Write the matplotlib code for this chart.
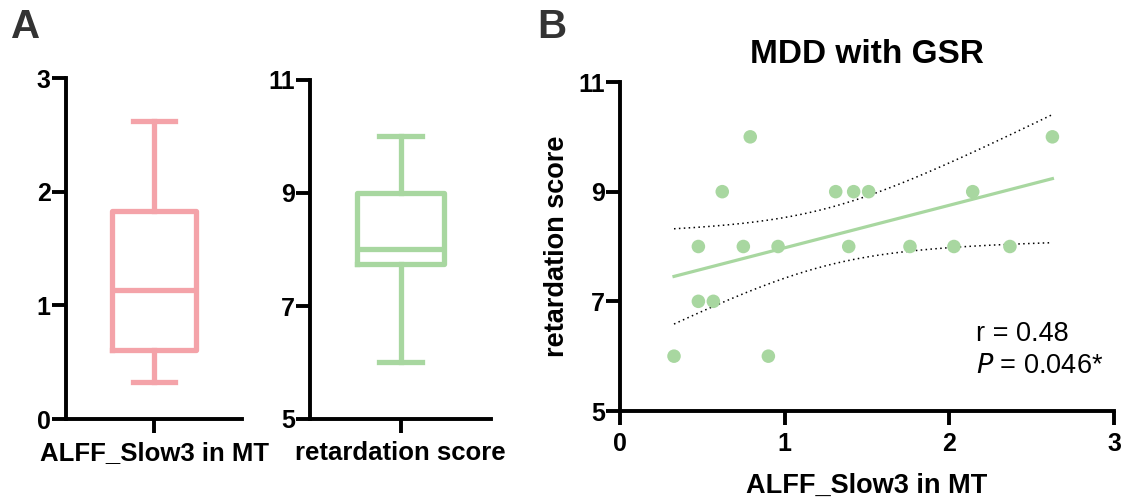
import numpy as np
import matplotlib
matplotlib.use("Agg")
import matplotlib.pyplot as plt

plt.rcParams['font.family'] = ['Liberation Sans', 'DejaVu Sans']

# ---- data ----
alff = [0.328, 0.476, 0.476, 0.567, 0.621, 0.749, 0.791, 0.901, 0.960,
        1.310, 1.389, 1.419, 1.510, 1.761, 2.028, 2.142, 2.368, 2.626]
retard = [6, 8, 7, 7, 9, 8, 10, 6, 8, 9, 8, 9, 9, 8, 8, 9, 8, 10]
xlabel_alff = "ALFF_Slow3 in MT"
ylabel_ret = "retardation score"
title_b = "MDD with GSR"
r_text = "r = 0.48"
p_text = r"$\it{P}$ = 0.046*"
yticks_alff = [0, 1, 2, 3]
yticks_ret = [5, 7, 9, 11]
xticks_b = [0, 1, 2, 3]

PINK = "#F4A3A9"
GREEN = "#A8D7A0"
W, H = 1123, 498
fig = plt.figure(figsize=(W / 100, H / 100), dpi=100)

TICK_FS = 18


def ax_px(l, t, r, b):
    return fig.add_axes([l / W, 1 - b / H, (r - l) / W, (b - t) / H])


def style(ax):
    for s in ['top', 'right']:
        ax.spines[s].set_visible(False)
    for s in ['left', 'bottom']:
        ax.spines[s].set_linewidth(2.8)
        ax.spines[s].set_color('black')
    ax.tick_params(width=2.8, length=10, direction='out', labelsize=TICK_FS, pad=1)
    for lab in ax.get_xticklabels() + ax.get_yticklabels():
        lab.set_fontweight('bold')


def stats(vals, label):
    v = np.asarray(vals)
    q1, med, q3 = np.percentile(v, [25, 50, 75], method='weibull')
    return dict(label=label, whislo=v.min(), q1=q1, med=med, q3=q3,
                whishi=v.max(), fliers=[])


def draw_box(ax, vals, color, label, ylim, yticks):
    st = stats(vals, label)
    lw = 3.8
    ax.bxp([st], positions=[1], widths=0.48, capwidths=0.24, showfliers=False,
           boxprops=dict(color=color, linewidth=lw),
           whiskerprops=dict(color=color, linewidth=lw),
           capprops=dict(color=color, linewidth=lw),
           medianprops=dict(color=color, linewidth=lw))
    ax.set_xlim(0.5, 1.5)
    ax.set_ylim(*ylim)
    ax.set_yticks(yticks)
    ax.set_xticks([1])
    style(ax)
    ax.tick_params(axis='x', pad=6)
    ax.set_xticklabels([label], fontsize=18.5, fontweight='bold')
    for lab in ax.get_yticklabels():
        lab.set_fontweight('bold')


# Panel A
ax1 = ax_px(66, 78, 242, 419)
draw_box(ax1, alff, PINK, xlabel_alff, (0, 3), yticks_alff)
ax2 = ax_px(310, 80, 491, 419)
draw_box(ax2, retard, GREEN, ylabel_ret, (5, 11), yticks_ret)

# Panel B
ax3 = ax_px(620, 82, 1114, 411)
x = np.asarray(alff)
y = np.asarray(retard, dtype=float)
n = len(x)
slope, icpt = np.polyfit(x, y, 1)
xs = np.linspace(x.min(), x.max(), 200)
yh = slope * xs + icpt
resid = y - (slope * x + icpt)
s_err = np.sqrt(np.sum(resid ** 2) / (n - 2))
t_crit = 2.120
se = s_err * np.sqrt(1 / n + (xs - x.mean()) ** 2 / np.sum((x - x.mean()) ** 2))
ax3.scatter(x, y, s=95, color=GREEN, edgecolors='none', zorder=3)
ax3.plot(xs, yh, color=GREEN, linewidth=2.3, zorder=2)
ax3.plot(xs, yh + t_crit * se, color='black', linewidth=1.1, linestyle=(0, (1, 2.2)), zorder=1)
ax3.plot(xs, yh - t_crit * se, color='black', linewidth=1.1, linestyle=(0, (1, 2.2)), zorder=1)
ax3.set_xlim(0, 3)
ax3.set_ylim(5, 11)
ax3.set_xticks(xticks_b)
ax3.set_yticks(yticks_ret)
style(ax3)
ax3.tick_params(axis='x', pad=5)
ax3.set_xlabel(xlabel_alff, fontsize=19.5, fontweight='bold', labelpad=12)
ax3.set_ylabel(ylabel_ret, fontsize=19.5, fontweight='bold', labelpad=6)
ax3.set_title(title_b, fontsize=24, fontweight='bold', pad=14)
ax3.text(0.72, 0.235, r_text, transform=ax3.transAxes, fontsize=19.5, va='center')
ax3.text(0.72, 0.137, p_text, transform=ax3.transAxes, fontsize=19.5, va='center')

fig.text(11 / W, 1 - 27 / H, "A", fontsize=29, fontweight='bold', color='#333333', va='center')
fig.text(537 / W, 1 - 27 / H, "B", fontsize=29, fontweight='bold', color='#333333', va='center')

fig.savefig("out.png", dpi=100)
